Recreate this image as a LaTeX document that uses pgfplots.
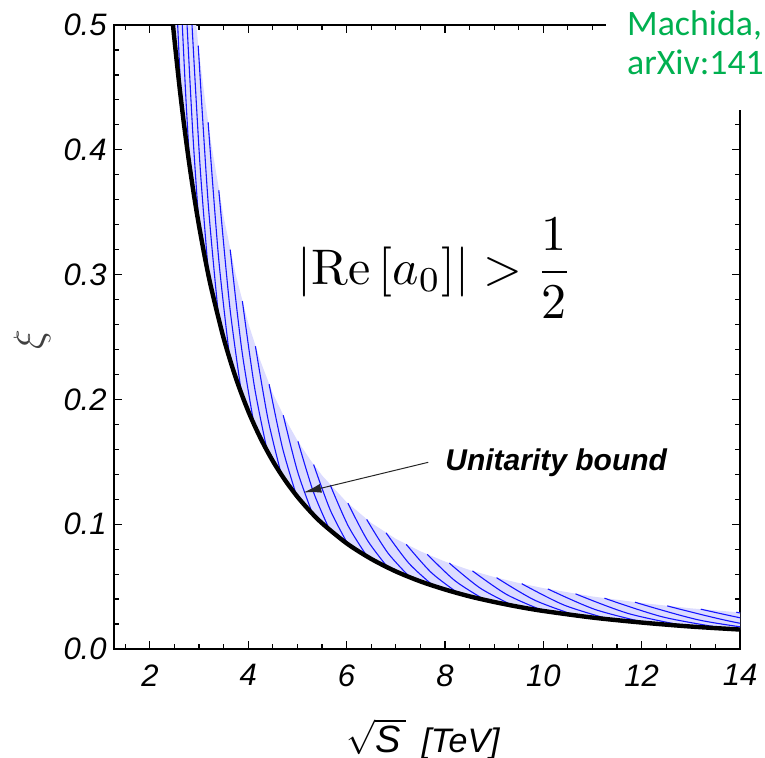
\documentclass[border=0pt]{standalone}
\usepackage[no-math]{fontspec}
\usepackage{pgfplots}
\usepackage{pgfplotstable}
\pgfplotsset{compat=1.18}
\usepgfplotslibrary{fillbetween}
\usetikzlibrary{arrows.meta}
\newfontfamily\helv{Liberation Sans}
\newfontfamily\calib{Carlito}
\definecolor{bandfill}{RGB}{220,220,255}
\definecolor{hatch}{RGB}{20,20,255}
\definecolor{notegreen}{RGB}{0,176,80}

% unitarity bound xi(sqrt S)
\pgfplotstableread{
x y
2.45 0.5081
2.5 0.4880
2.6 0.4512
2.7 0.4184
2.8 0.3890
2.9 0.3627
3.0 0.3389
3.125 0.3123
3.25 0.2888
3.5 0.2490
3.75 0.2169
4.0 0.1906
4.25 0.1689
4.5 0.1506
4.75 0.1352
5.0 0.1220
5.25 0.1107
5.5 0.1008
6.0 0.0847
6.5 0.0722
7.0 0.0622
7.5 0.0542
8.0 0.0477
8.5 0.0422
9.0 0.0377
9.5 0.0338
10 0.0305
11 0.0252
12 0.0212
13 0.0180
14 0.0156
}\boundtab

% upper edge of the shaded band
\pgfplotstableread{
x y
2.93 0.5045
3.0 0.4778
3.125 0.4388
3.25 0.4043
3.5 0.3461
3.75 0.2993
4.0 0.2611
4.25 0.2305
4.5 0.2048
4.75 0.1845
5.0 0.1671
5.25 0.1522
5.5 0.1391
6.0 0.1177
6.5 0.1011
7.0 0.0883
7.5 0.0783
8.0 0.0701
8.5 0.0633
9.0 0.0577
9.5 0.0529
10 0.0488
11 0.0421
12 0.0369
13 0.0326
14 0.0293
}\uppertab

\pgfplotsset{hatchline/.style={hatch, line width=0.55pt, smooth}}

\begin{document}
\begin{tikzpicture}
\begin{axis}[
  at={(0pt,0pt)}, anchor=south west,
  scale only axis, width=313pt, height=312pt,
  xmin=1.27, xmax=14, ymin=0, ymax=0.5,
  xtick={2,4,...,14},
  ytick={0,0.1,0.2,0.3,0.4,0.5},
  minor xtick={1.5,2,...,14},
  minor ytick={0,0.02,...,0.5},
  axis line style={line width=0.65pt},
  tick style={black, line width=0.6pt},
  major tick length=4pt, minor tick length=2.5pt,
  /pgf/number format/assume math mode=true,
  tick label style={font=\helv\itshape\fontsize{15.5}{18}\selectfont, inner sep=0pt},
  xticklabel style={yshift=-7.5pt},
  yticklabel style={xshift=-3.5pt, /pgf/number format/.cd, fixed, fixed zerofill, precision=1},
]
\addplot[draw=none, name path=U] table {\uppertab};
\addplot[draw=none, name path=L] table {\boundtab};
\addplot[bandfill] fill between[of=U and L];

% hatching across the band
\addplot[hatchline] coordinates {(2.5650,0.5) (2.6027,0.4676) (2.6409,0.4373)};
\addplot[hatchline] coordinates {(2.6587,0.5) (2.7352,0.4389) (2.8140,0.3852)};
\addplot[hatchline] coordinates {(2.7558,0.5) (2.8746,0.4119) (2.9983,0.3393)};
\addplot[hatchline] coordinates {(2.8565,0.5) (3.0209,0.3866) (3.1947,0.2988)};
\addplot[hatchline] coordinates {(2.9827,0.4834) (3.1864,0.3567) (3.4040,0.2632)};
\addplot[hatchline] coordinates {(3.1841,0.4221) (3.3984,0.3128) (3.6270,0.2318)};
\addplot[hatchline] coordinates {(3.4012,0.3676) (3.6255,0.2739) (3.8648,0.2042)};
\addplot[hatchline] coordinates {(3.6330,0.3200) (3.8680,0.2399) (4.1180,0.1799)};
\addplot[hatchline] coordinates {(3.8804,0.2788) (4.1263,0.2101) (4.3878,0.1584)};
\addplot[hatchline] coordinates {(4.1457,0.2426) (4.4025,0.1840) (4.6752,0.1395)};
\addplot[hatchline] coordinates {(4.4239,0.2122) (4.6944,0.1615) (4.9816,0.1229)};
\addplot[hatchline] coordinates {(4.7118,0.1873) (5.0011,0.1424) (5.3079,0.1083)};
\addplot[hatchline] coordinates {(5.0108,0.1664) (5.3236,0.1260) (5.6557,0.09535)};
\addplot[hatchline] coordinates {(5.3298,0.1478) (5.6673,0.1114) (6.0264,0.08398)};
\addplot[hatchline] coordinates {(5.6681,0.1313) (6.0334,0.09855) (6.4212,0.07397)};
\addplot[hatchline] coordinates {(6.0265,0.1168) (6.4211,0.08726) (6.8419,0.06515)};
\addplot[hatchline] coordinates {(6.4088,0.1038) (6.8353,0.07719) (7.2901,0.05739)};
\addplot[hatchline] coordinates {(6.8025,0.09308) (7.2691,0.06859) (7.7677,0.05055)};
\addplot[hatchline] coordinates {(7.2126,0.08384) (7.7264,0.06110) (8.2765,0.04453)};
\addplot[hatchline] coordinates {(7.6408,0.07587) (8.2088,0.05455) (8.8187,0.03922)};
\addplot[hatchline] coordinates {(8.0898,0.06880) (8.7185,0.04875) (9.3965,0.03454)};
\addplot[hatchline] coordinates {(8.5600,0.06256) (9.2575,0.04363) (10.0126,0.03042)};
\addplot[hatchline] coordinates {(9.0495,0.05713) (9.8248,0.03913) (10.668,0.02680)};
\addplot[hatchline] coordinates {(9.5616,0.05232) (10.426,0.03514) (11.367,0.02361)};
\addplot[hatchline] coordinates {(10.092,0.04814) (11.056,0.03163) (12.112,0.02079)};
\addplot[hatchline] coordinates {(10.655,0.04420) (11.728,0.02845) (12.906,0.01831)};
\addplot[hatchline] coordinates {(11.244,0.04071) (12.436,0.02563) (13.751,0.01613)};
\addplot[hatchline] coordinates {(11.864,0.03751) (13.186,0.02307) (14.652,0.01421)};
\addplot[hatchline] coordinates {(12.520,0.03454) (13.982,0.02078) (15.613,0.01251)};
\addplot[hatchline] coordinates {(13.202,0.03193) (14.818,0.01877) (16.636,0.01102)};
\addplot[hatchline] coordinates {(13.925,0.02947) (15.710,0.01692) (17.726,0.00970)};

% the bound itself
\addplot[black, line width=2.2pt, smooth] table {\boundtab};

\node[scale=2.5] at (axis cs:7.80,0.305)
  {$\displaystyle \left|\mathrm{Re}\left[a_0\right]\right| > \frac{1}{2}$};
\node[anchor=base west, inner sep=0pt, font=\helv\bfseries\itshape\fontsize{15}{18}\selectfont]
  at (axis cs:8.0,0.1432) {Unitarity bound};
\draw[black!85, line width=0.5pt, -{Latex[length=9pt,width=4.5pt]}]
  (axis cs:7.66,0.1496) -- (axis cs:5.121,0.1254);
\end{axis}

% axis titles
\node[anchor=base west, inner sep=0pt, font=\fontsize{19}{22}\selectfont]
  at (116pt,-51.5pt) {$\sqrt{\mbox{\helv\itshape S}\,}$\hspace{0.4em}{\helv\itshape\fontsize{17}{20}\selectfont [TeV]}};
\node[rotate=90, inner sep=0pt, font=\fontsize{21}{24}\selectfont, text=black!75]
  at (-41pt,154.5pt) {$\xi$};

% reference note in the corner
\fill[white] (246pt,269.5pt) rectangle (340pt,340pt);
\node[anchor=base west, inner sep=0pt, text=notegreen, font=\calib\fontsize{17.9}{19.5}\selectfont]
  at (256.4pt,307pt) {Machida,};
\node[anchor=base west, inner sep=0pt, text=notegreen, font=\calib\fontsize{17.9}{19.5}\selectfont]
  at (256.4pt,287.5pt) {arXiv:141};

\pgfresetboundingbox
\useasboundingbox (-57pt,-54pt) rectangle (325.5pt,324.5pt);
\end{tikzpicture}
\end{document}
